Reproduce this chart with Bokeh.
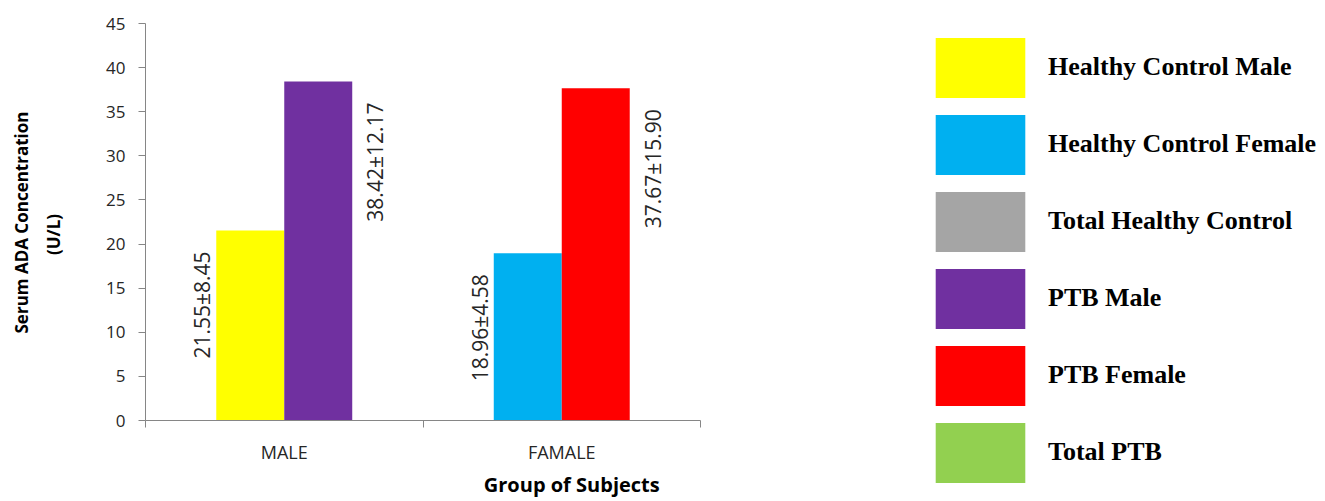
from math import pi
from bokeh.plotting import figure
from bokeh.models import (Range1d, FixedTicker, ColumnDataSource, Legend, LegendItem, Label)
from bokeh.core.properties import value
from bokeh.embed import file_html
from bokeh.resources import INLINE

# ---- data ----
categories = ["MALE", "FAMALE"]
series_names = ["Healthy Control Male", "Healthy Control Female", "Total Healthy Control",
                "PTB Male", "PTB Female", "Total PTB"]
series_category = ["MALE", "FAMALE", None, "MALE", "FAMALE", None]
series_mean = [21.55, 18.96, None, 38.42, 37.67, None]
series_sd = [8.45, 4.58, None, 12.17, 15.90, None]
series_colors = ["#FFFF00", "#00B0F0", "#A5A5A5", "#7030A0", "#FF0000", "#92D050"]
y_ticks = [0, 5, 10, 15, 20, 25, 30, 35, 40, 45]
y_title = ["Serum ADA Concentration", "(U/L)"]
x_title = "Group of Subjects"

# ---- layout / style ----
W, H = 1325, 501
PLOT_L, PLOT_R, PLOT_T, PLOT_B = 145, 700, 23, 420      # chart area on the page (px)
Y_MAX = 45
BAR_W = 0.245
bar_side = [-1, -1, 0, 1, 1, 0]          # left bar: healthy control, right bar: PTB
label_xoff = {-1: -48, 1: 57}
SANS = "Open Sans"
AXIS_COLOR = "#868686"
TEXT_COLOR = "#262626"

n = len(categories)
xs = (PLOT_R - PLOT_L) / n
ys = (PLOT_B - PLOT_T) / Y_MAX
x_range = Range1d(-PLOT_L / xs, (W - PLOT_L) / xs)
y_range = Range1d(-(H - PLOT_B) / ys, Y_MAX + PLOT_T / ys)

p = figure(width=W, height=H, x_range=x_range, y_range=y_range,
           output_backend="svg", toolbar_location=None,
           min_border=0, min_border_left=0, min_border_right=0,
           min_border_top=0, min_border_bottom=0)
p.title.visible = False
p.xgrid.visible = False
p.ygrid.visible = False
p.outline_line_color = None

cat_center = {c: i + 0.5 for i, c in enumerate(categories)}

renderers = []
lab_x, lab_y, lab_t, lab_xo = [], [], [], []
for name, cat, m, sd, col, side in zip(series_names, series_category, series_mean,
                                       series_sd, series_colors, bar_side):
    if m is None:
        # series listed in the legend but without a bar in this chart
        src = ColumnDataSource(dict(x=[float("nan")], top=[float("nan")]))
    else:
        x = cat_center[cat] + side * BAR_W / 2
        src = ColumnDataSource(dict(x=[x], top=[m]))
        lab_x.append(x)
        lab_y.append(m)
        lab_t.append(f"{m:.2f}\u00b1{sd:.2f}")
        lab_xo.append(label_xoff[side])
    r = p.vbar(x="x", top="top", bottom=0, width=BAR_W, source=src,
               fill_color=col, line_color=None)
    renderers.append(r)

lsrc = ColumnDataSource(dict(x=lab_x, y=lab_y, text=lab_t, xo=lab_xo))
p.text(x="x", y="y", text="text", x_offset="xo", y_offset=21, angle=pi / 2, source=lsrc,
       text_align="right", text_baseline="middle", text_font=value(SANS),
       text_font_size="21px", text_color=TEXT_COLOR)

# y axis, drawn at x = 0
ya = p.yaxis[0]
ya.fixed_location = 0
ya.bounds = (0, Y_MAX)
ya.ticker = FixedTicker(ticks=y_ticks)
ya.axis_line_color = AXIS_COLOR
ya.major_tick_line_color = AXIS_COLOR
ya.major_tick_out = 7
ya.major_tick_in = 0
ya.minor_tick_line_color = None
ya.major_label_standoff = 13
ya.major_label_text_font = SANS
ya.major_label_text_font_size = "17px"
ya.major_label_text_color = TEXT_COLOR

# x axis, drawn at y = 0
xa = p.xaxis[0]
xa.fixed_location = 0
xa.bounds = (0, n)
xa.ticker = FixedTicker(ticks=[cat_center[c] for c in categories],
                        minor_ticks=list(range(n + 1)))
xa.major_label_overrides = {cat_center[c]: c for c in categories}
xa.axis_line_color = AXIS_COLOR
xa.major_tick_line_color = None
xa.major_tick_out = 0
xa.major_tick_in = 0
xa.minor_tick_line_color = AXIS_COLOR
xa.minor_tick_out = 7
xa.minor_tick_in = 0
xa.major_label_standoff = 12
xa.major_label_text_font = SANS
xa.major_label_text_font_size = "18px"
xa.major_label_text_color = TEXT_COLOR

# axis titles
p.add_layout(Label(x=cat_center["FAMALE"], x_offset=10, y=17, x_units="data", y_units="screen",
                   text=x_title, text_align="center", text_baseline="middle", text_font=SANS,
                   text_font_size="20px", text_font_style="bold", text_color="black"))
p.add_layout(Label(x=21, y=H - 222, x_units="screen", y_units="screen", text=y_title[0],
                   angle=pi / 2, text_align="center", text_baseline="middle", text_font=SANS,
                   text_font_size="17px", text_font_style="bold", text_color="black"))
p.add_layout(Label(x=53, y=H - 234, x_units="screen", y_units="screen", text=y_title[1],
                   angle=pi / 2, text_align="center", text_baseline="middle", text_font=SANS,
                   text_font_size="17px", text_font_style="bold", text_color="black"))

items = [LegendItem(label=name, renderers=[r]) for name, r in zip(series_names, renderers)]
legend = Legend(items=items, location=(924, 11.5), orientation="vertical",
                glyph_width=112, glyph_height=75, spacing=2, padding=0, margin=0,
                label_standoff=12, label_text_font="Liberation Serif",
                label_text_font_style="bold", label_text_font_size="26px",
                label_text_color="black", border_line_color=None, background_fill_alpha=0)
p.add_layout(legend)

open("out.html", "w").write(file_html(p, INLINE))
